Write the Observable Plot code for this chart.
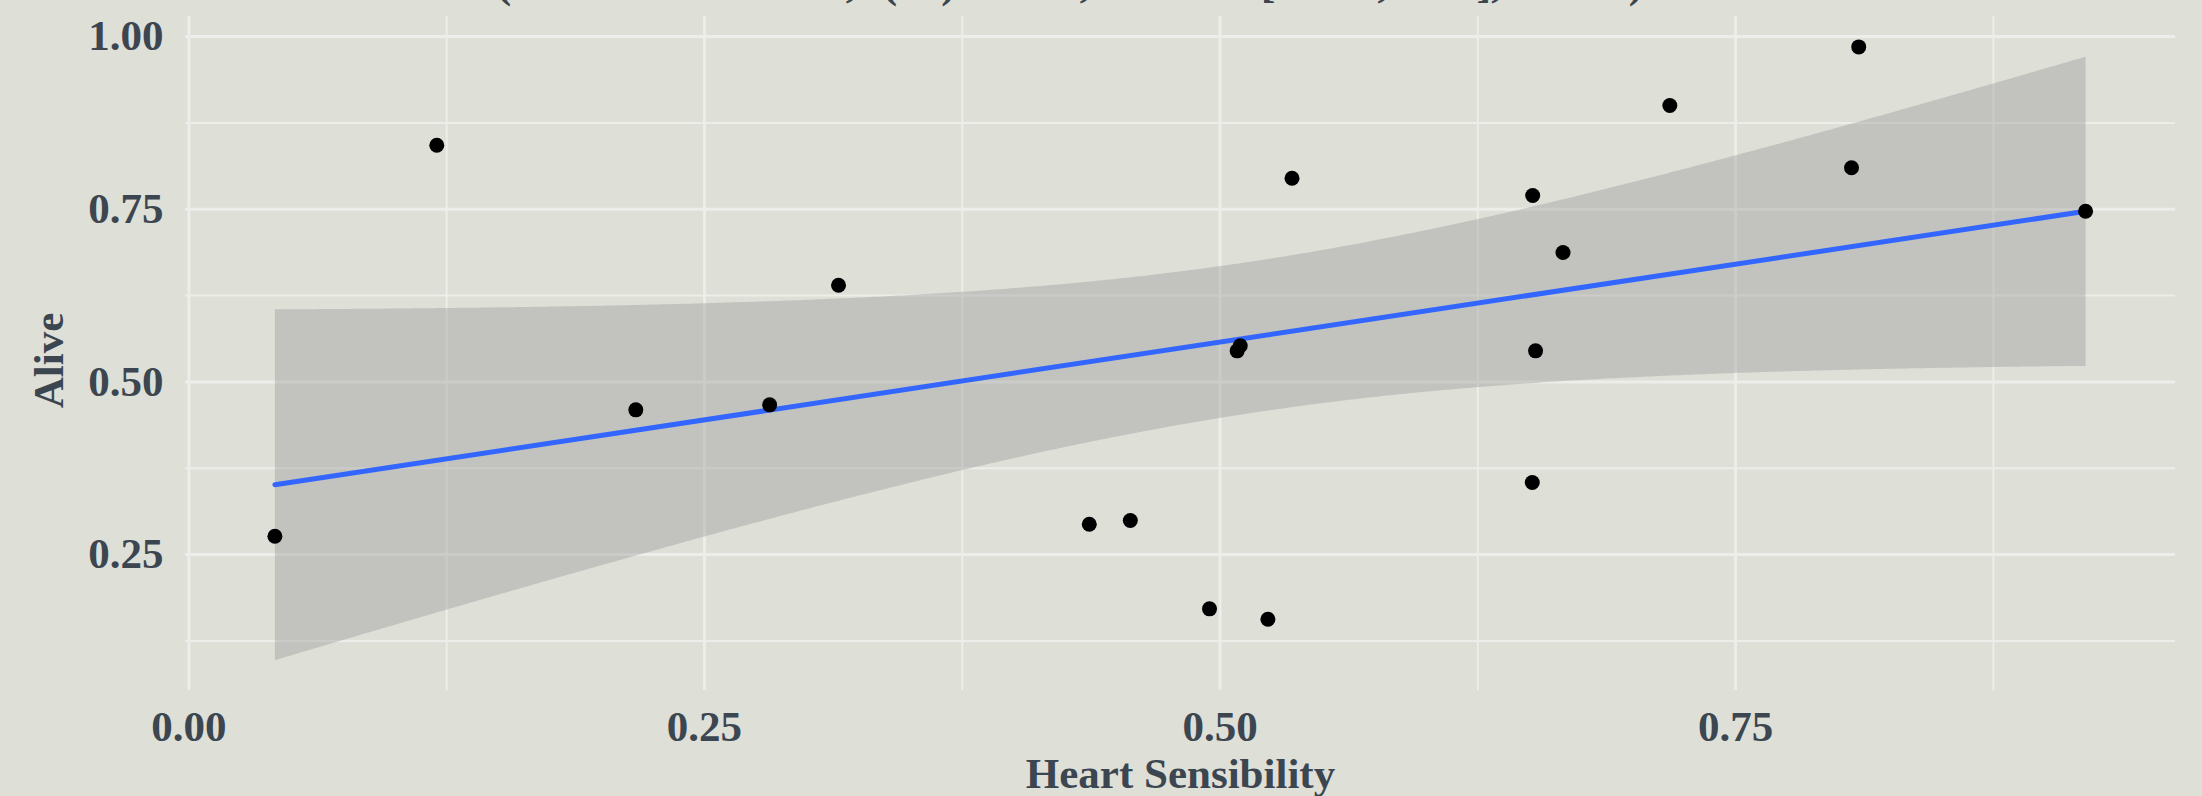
<!DOCTYPE html>
<html><head><meta charset="utf-8">
<script src="https://cdn.jsdelivr.net/npm/d3@7"></script>
<script src="https://cdn.jsdelivr.net/npm/@observablehq/plot@0.6"></script>
<style>
html,body{margin:0;padding:0;background:#dedfd7;}
#chart{width:2202px;height:796px;overflow:hidden;}
</style></head><body><div id="chart"></div>
<script>
const heartSensibility = [0.0417, 0.1202, 0.2167, 0.2816, 0.3150, 0.4366, 0.4565, 0.4949, 0.5083, 0.5098, 0.5232, 0.5349, 0.6514, 0.6516, 0.6530, 0.6663, 0.7181, 0.8062, 0.8097, 0.9197];
const alive = [0.2766, 0.8426, 0.4596, 0.4668, 0.6400, 0.2940, 0.2994, 0.1715, 0.5450, 0.5523, 0.1565, 0.7949, 0.3544, 0.7698, 0.5450, 0.6873, 0.9001, 0.8100, 0.9850, 0.7471];
const xTicks = [0, 0.25, 0.5, 0.75];
const yTicks = [0.25, 0.5, 0.75, 1.0];
const xMinor = [0.125, 0.375, 0.625, 0.875];
const yMinor = [0.125, 0.375, 0.625, 0.875];
const xLabel = "Heart Sensibility";
const yLabel = "Alive";

const data = heartSensibility.map((x, i) => ({x, y: alive[i]}));

// Pearson correlation for the (clipped) title
const n = data.length;
const mx = d3.mean(heartSensibility), my = d3.mean(alive);
const sxy = d3.sum(data, d => (d.x - mx) * (d.y - my));
const sxx = d3.sum(heartSensibility, v => (v - mx) ** 2);
const syy = d3.sum(alive, v => (v - my) ** 2);
const r = sxy / Math.sqrt(sxx * syy);
const z = Math.atanh(r), se = 1 / Math.sqrt(n - 3);
const t = r * Math.sqrt(n - 2) / Math.sqrt(1 - r * r);
const f = d3.format(".2f");
const title = `(Pearson's r = ${f(r)}, t(${n - 2}) = ${f(t)}, 95% CI [${f(Math.tanh(z - 1.96 * se))}, ${f(Math.tanh(z + 1.96 * se))}], n = ${n})`;

const ink = "#3c4650";
const font = "Liberation Serif, Times New Roman, serif";
const grid = "#ededea";

const chart = Plot.plot({
  width: 2202,
  height: 796,
  marginLeft: 185,
  marginRight: 27,
  marginTop: 16,
  marginBottom: 106,
  style: {background: "#dedfd7", fontFamily: font, overflow: "visible"},
  x: {domain: [-0.00165, 0.9633]},
  y: {domain: [0.0533, 1.029]},
  marks: [
    Plot.ruleX(xMinor, {stroke: grid, strokeWidth: 2}),
    Plot.ruleY(yMinor, {stroke: grid, strokeWidth: 2}),
    Plot.ruleX(xTicks, {stroke: grid, strokeWidth: 3}),
    Plot.ruleY(yTicks, {stroke: grid, strokeWidth: 3}),
    Plot.linearRegressionY(data, {x: "x", y: "y", ci: 0.95, stroke: "#3366ff", strokeWidth: 5, fill: "#999999", fillOpacity: 0.4}),
    Plot.dot(data, {x: "x", y: "y", r: 7.5, fill: "black"}),
    Plot.axisX(xTicks, {tickSize: 0, tickPadding: 20, tickFormat: d3.format(".2f"), fontSize: 43, fontWeight: "bold", fontFamily: font, color: ink, label: null}),
    Plot.axisY(yTicks, {tickSize: 0, tickPadding: 22, tickFormat: d3.format(".2f"), fontSize: 43, fontWeight: "bold", fontFamily: font, color: ink, label: null}),
    Plot.text([xLabel], {text: d => d, frameAnchor: "bottom", dy: 97, lineAnchor: "bottom", fontSize: 43, fontWeight: "bold", fontFamily: font, fill: ink}),
    Plot.text([yLabel], {text: d => d, frameAnchor: "left", rotate: -90, textAnchor: "middle", dx: -123, dy: 7, lineAnchor: "bottom", fontSize: 43, fontWeight: "bold", fontFamily: font, fill: ink}),
    Plot.text([title], {text: d => d, frameAnchor: "top-left", textAnchor: "start", dx: 311, dy: -20, lineAnchor: "bottom", fontSize: 44, fontWeight: "bold", fontFamily: font, fill: ink})
  ]
});
document.getElementById("chart").appendChild(chart);
</script>
</body></html>
